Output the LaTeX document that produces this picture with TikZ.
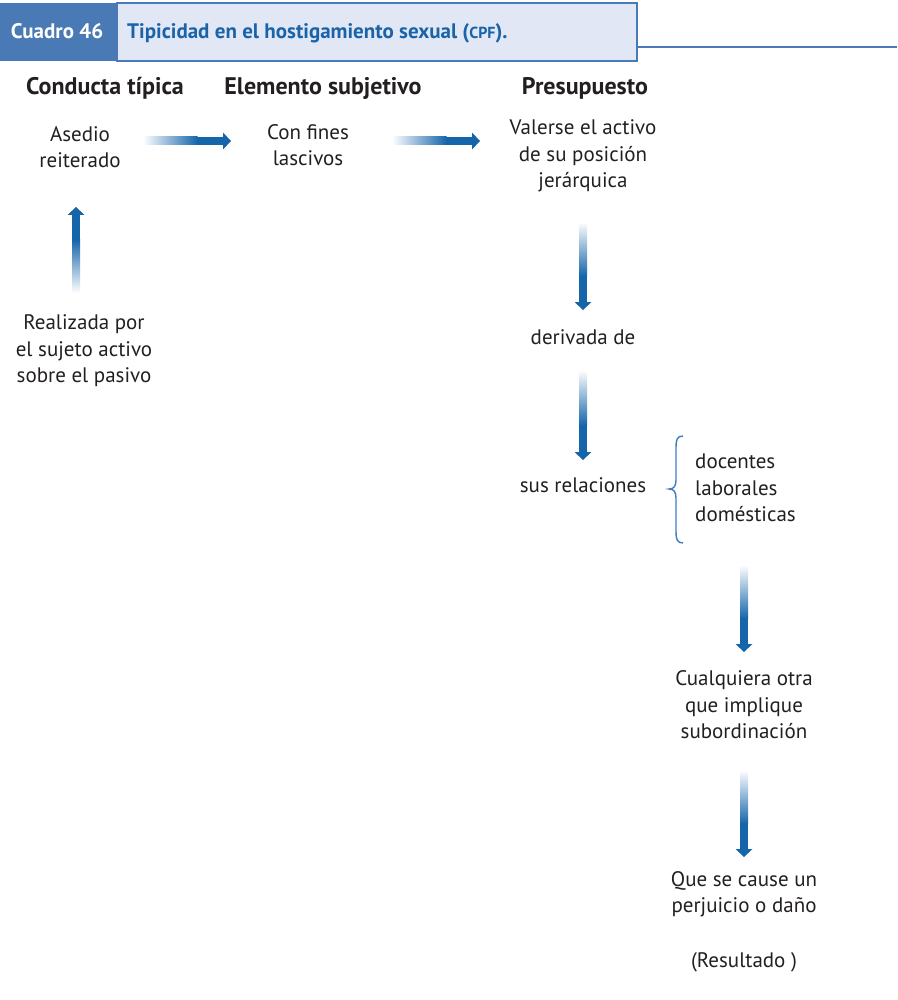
\documentclass[tikz,border=0pt]{standalone}
\usepackage{fontspec}
\setmainfont{PT Sans}
\usetikzlibrary{calc}
\definecolor{hdrblue}{HTML}{4A7AB5}
\definecolor{hdrlight}{HTML}{E1E7F4}
\definecolor{titleblue}{HTML}{1A63A8}
\definecolor{arrowblue}{HTML}{1565AA}
\definecolor{txt}{HTML}{231F20}
\definecolor{bracecol}{HTML}{3D7CC0}
\newcommand{\gradH}[2]{%
  \shade[left color=white, right color=arrowblue] ($(#1)+(0,-4)$) rectangle ($(#1)!0.62!(#2)+(0,4)$);
  \fill[arrowblue] ($(#1)!0.62!(#2)+(-0.5,-4)$) rectangle ($(#2)+(-7,4)$);
  \fill[arrowblue] ($(#2)+(-8,-8.5)$) -- (#2) -- ($(#2)+(-8,8.5)$) -- cycle;}
\newcommand{\gradD}[2]{%
  \shade[top color=white, bottom color=arrowblue] ($(#1)+(-4,0)$) rectangle ($(#1)!0.62!(#2)+(4,0)$);
  \fill[arrowblue] ($(#1)!0.62!(#2)+(-4,-0.5)$) rectangle ($(#2)+(4,-7)$);
  \fill[arrowblue] ($(#2)+(-8.5,-8)$) -- (#2) -- ($(#2)+(8.5,-8)$) -- cycle;}
\newcommand{\gradU}[2]{%
  \shade[bottom color=white, top color=arrowblue] ($(#1)+(-4,0)$) rectangle ($(#1)!0.62!(#2)+(4,0)$);
  \fill[arrowblue] ($(#1)!0.62!(#2)+(-4,0.5)$) rectangle ($(#2)+(4,7)$);
  \fill[arrowblue] ($(#2)+(-8.5,8)$) -- (#2) -- ($(#2)+(8.5,8)$) -- cycle;}
\begin{document}
\begin{tikzpicture}[x=1pt,y=-1pt,
  body/.style={inner sep=0pt, align=center, text=txt, font=\fontsize{21}{26.5}\selectfont},
  bodyl/.style={inner sep=0pt, align=left, text=txt, font=\fontsize{21}{26.5}\selectfont},
  head/.style={inner sep=0pt, text=txt, font=\fontsize{24}{28}\selectfont\bfseries}]
\useasboundingbox (0,0) rectangle (897,1000);
% header
\fill[hdrblue] (0,3) rectangle (117,61);
\filldraw[fill=hdrlight, draw=hdrblue, line width=2pt] (117,3) rectangle (637,61);
\draw[hdrblue, line width=2pt] (637,47) -- (897,47);
\node[inner sep=0pt, anchor=base, text=white, font=\fontsize{21}{24}\selectfont\bfseries] (cuadro) at (57,39) {Cuadro 46};
\node[inner sep=0pt, anchor=base west, text=titleblue, font=\fontsize{21}{24}\selectfont\bfseries] (title) at (127,39) {Tipicidad en el hostigamiento sexual ({\fontsize{16}{18}\selectfont CPF}).};
% headings
\node[head] (h1) at (105,88) {Conducta típica};
\node[head] (h2) at (323,88) {Elemento subjetivo};
\node[head] (h3) at (585,88) {Presupuesto};
% texts
\node[body] (asedio) at (80,147) {Asedio\\reiterado};
\node[body] (fines) at (308,145) {Con fines\\lascivos};
\node[body] (valerse) at (583,156) {Valerse el activo\\de su posición\\jerárquica};
\node[body] (realizada) at (84,351) {Realizada por\\el sujeto activo\\sobre el pasivo};
\node[body] (derivada) at (583,337) {derivada de};
\node[body] (relaciones) at (583,485) {sus relaciones};
\node[bodyl, anchor=west] (tipos) at (695,488) {docentes\\laborales\\domésticas};
\node[body] (cualquiera) at (744,705) {Cualquiera otra\\que implique\\subordinación};
\node[body] (perjuicio) at (744,894) {Que se cause un\\perjuicio o daño};
\node[body] (resultado) at (744,962) {(Resultado )};
% brace
\draw[bracecol, line width=1.4pt] (683,436) .. controls (677,436) and (676,440) .. (676,447) -- (676,480) .. controls (676,486) and (674,489) .. (669,489) .. controls (674,489) and (676,492) .. (676,498) -- (676,532) .. controls (676,539) and (677,543) .. (683,543);
% arrows
\coordinate (a1s) at (143,141); \coordinate (a1e) at (231,141);
\coordinate (a2s) at (392,141); \coordinate (a2e) at (480,141);
\coordinate (a3s) at (76,293); \coordinate (a3e) at (76,207);
\coordinate (a4s) at (583,222); \coordinate (a4e) at (583,310);
\coordinate (a5s) at (583,370); \coordinate (a5e) at (583,460);
\coordinate (a6s) at (744,565); \coordinate (a6e) at (744,652);
\coordinate (a7s) at (744,770); \coordinate (a7e) at (744,857);
\gradH{a1s}{a1e}
\gradH{a2s}{a2e}
\gradU{a3s}{a3e}
\gradD{a4s}{a4e}
\gradD{a5s}{a5e}
\gradD{a6s}{a6e}
\gradD{a7s}{a7e}
\end{tikzpicture}
\end{document}
